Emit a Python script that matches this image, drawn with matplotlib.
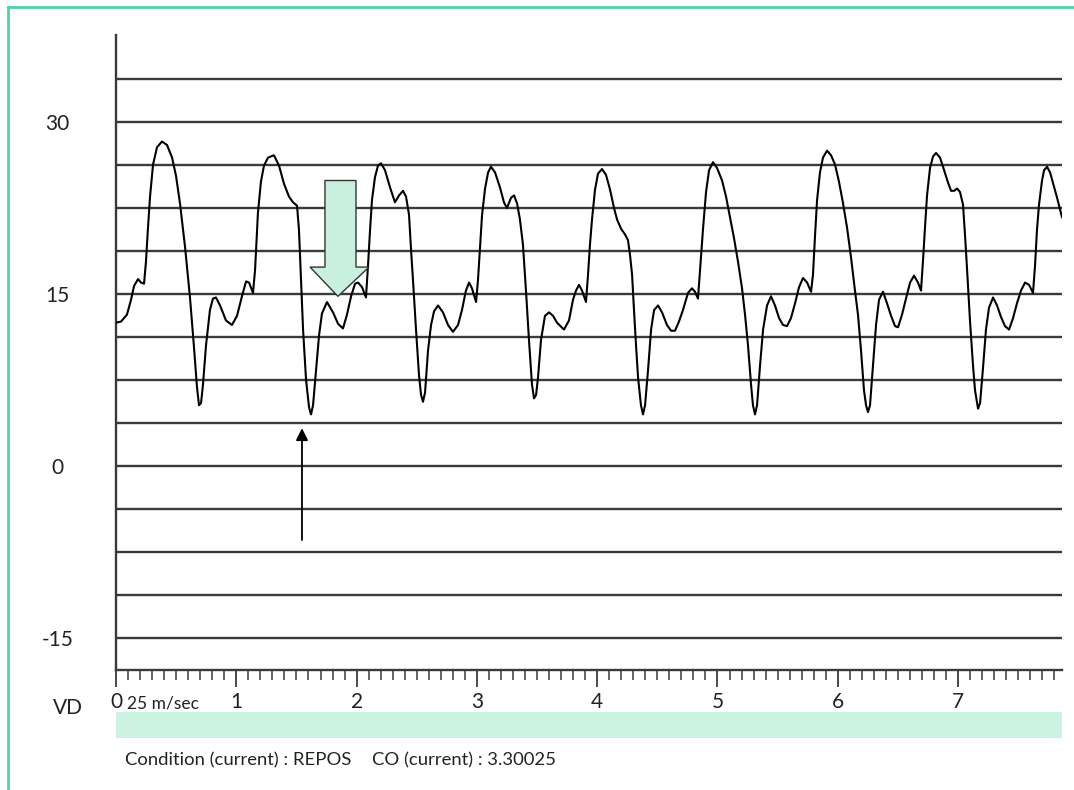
import numpy as np
import matplotlib.pyplot as plt
from matplotlib.patches import Polygon, Rectangle
from matplotlib.lines import Line2D

plt.rcParams['font.family'] = ['Lato', 'DejaVu Sans']

# pressure trace: time (s) and value
t = [0.000, 0.042, 0.091, 0.125, 0.150, 0.183, 0.208, 0.233, 0.249, 0.266,
     0.283, 0.308, 0.341, 0.382, 0.424, 0.466, 0.499, 0.532, 0.574, 0.615,
     0.648, 0.673, 0.690, 0.707, 0.723, 0.748, 0.781, 0.806, 0.831, 0.865,
     0.914, 0.964, 1.006, 1.047, 1.081, 1.106, 1.139, 1.156, 1.180, 1.205,
     1.230, 1.264, 1.313, 1.355, 1.397, 1.438, 1.471, 1.505, 1.521, 1.538,
     1.555, 1.580, 1.605, 1.621, 1.638, 1.663, 1.688, 1.712, 1.754, 1.804,
     1.846, 1.887, 1.920, 1.954, 1.987, 2.012, 2.045, 2.078, 2.095, 2.112,
     2.128, 2.153, 2.178, 2.203, 2.236, 2.278, 2.319, 2.353, 2.386, 2.411,
     2.436, 2.453, 2.469, 2.494, 2.519, 2.536, 2.552, 2.569, 2.594, 2.619,
     2.644, 2.677, 2.718, 2.760, 2.801, 2.843, 2.876, 2.909, 2.935, 2.959,
     2.993, 3.009, 3.026, 3.043, 3.068, 3.093, 3.117, 3.151, 3.192, 3.225,
     3.250, 3.284, 3.309, 3.334, 3.358, 3.383, 3.408, 3.433, 3.458, 3.475,
     3.492, 3.508, 3.533, 3.566, 3.600, 3.633, 3.666, 3.724, 3.766, 3.799,
     3.824, 3.849, 3.874, 3.907, 3.924, 3.940, 3.957, 3.982, 4.007, 4.040,
     4.073, 4.107, 4.140, 4.165, 4.198, 4.231, 4.256, 4.273, 4.290, 4.306,
     4.323, 4.340, 4.364, 4.381, 4.398, 4.423, 4.448, 4.473, 4.506, 4.539,
     4.580, 4.614, 4.647, 4.680, 4.713, 4.755, 4.788, 4.813, 4.838, 4.855,
     4.880, 4.905, 4.930, 4.963, 4.996, 5.038, 5.071, 5.104, 5.137, 5.171,
     5.204, 5.229, 5.254, 5.279, 5.295, 5.312, 5.329, 5.354, 5.379, 5.412,
     5.445, 5.478, 5.512, 5.545, 5.578, 5.611, 5.645, 5.678, 5.711, 5.745,
     5.778, 5.794, 5.811, 5.828, 5.852, 5.877, 5.911, 5.944, 5.977, 6.010,
     6.044, 6.077, 6.110, 6.143, 6.168, 6.193, 6.218, 6.235, 6.251, 6.268,
     6.293, 6.318, 6.343, 6.376, 6.409, 6.443, 6.476, 6.501, 6.534, 6.567,
     6.601, 6.634, 6.667, 6.692, 6.709, 6.725, 6.742, 6.767, 6.792, 6.817,
     6.850, 6.884, 6.917, 6.942, 6.967, 6.992, 7.016, 7.041, 7.058, 7.074,
     7.099, 7.124, 7.141, 7.166, 7.183, 7.207, 7.232, 7.257, 7.291, 7.324,
     7.357, 7.390, 7.424, 7.457, 7.490, 7.523, 7.557, 7.590, 7.623, 7.640,
     7.656, 7.673, 7.698, 7.715, 7.740, 7.765, 7.789, 7.823, 7.864]
p = [12.5, 12.6, 13.2, 14.5, 15.7, 16.3, 16.0, 15.9, 17.8, 20.8,
     23.5, 26.3, 27.8, 28.3, 28.0, 26.9, 25.3, 22.9, 19.1, 14.7,
     10.4, 6.9, 5.3, 5.5, 7.1, 10.5, 13.6, 14.6, 14.7, 14.0,
     12.7, 12.3, 13.1, 14.8, 16.1, 16.0, 15.1, 17.1, 22.1, 24.8,
     26.2, 26.9, 27.1, 26.2, 24.6, 23.5, 23.0, 22.7, 20.6, 16.2,
     11.9, 7.5, 5.1, 4.5, 5.3, 8.4, 11.4, 13.3, 14.3, 13.4,
     12.4, 12.0, 13.2, 14.8, 15.9, 16.0, 15.6, 14.7, 17.5, 20.6,
     23.2, 25.2, 26.2, 26.4, 25.8, 24.3, 23.0, 23.6, 24.0, 23.5,
     21.9, 18.8, 16.2, 11.9, 7.9, 6.2, 5.6, 6.4, 10.1, 12.3,
     13.5, 14.0, 13.4, 12.3, 11.7, 12.3, 13.6, 15.3, 16.0, 15.5,
     14.3, 16.2, 19.1, 21.9, 24.2, 25.6, 26.1, 25.6, 24.3, 23.0,
     22.5, 23.4, 23.6, 22.9, 21.5, 19.3, 15.3, 11.0, 7.1, 5.9,
     6.2, 7.7, 11.0, 13.1, 13.4, 13.1, 12.5, 11.9, 12.7, 14.5,
     15.3, 15.8, 15.3, 14.3, 16.7, 19.3, 21.5, 24.1, 25.5, 25.9,
     25.4, 24.1, 22.5, 21.5, 20.7, 20.2, 19.7, 18.4, 16.7, 13.6,
     10.5, 7.7, 5.3, 4.5, 5.3, 8.4, 11.9, 13.6, 14.0, 13.4,
     12.3, 11.8, 11.8, 12.6, 13.6, 15.1, 15.5, 15.2, 14.6, 17.1,
     20.7, 23.9, 25.8, 26.5, 26.0, 24.9, 23.5, 21.7, 19.9, 17.8,
     15.5, 13.2, 10.5, 7.1, 5.3, 4.5, 5.3, 8.8, 11.9, 14.0,
     14.8, 14.0, 12.9, 12.3, 12.2, 12.9, 14.2, 15.6, 16.4, 16.0,
     15.2, 16.7, 20.1, 23.2, 25.6, 26.9, 27.5, 27.1, 26.3, 24.8,
     22.9, 20.8, 18.2, 15.3, 13.2, 10.1, 6.6, 5.3, 4.7, 5.3,
     8.8, 12.3, 14.5, 15.2, 14.2, 13.1, 12.2, 12.1, 13.2, 14.6,
     16.0, 16.6, 16.0, 15.3, 18.0, 20.8, 23.6, 26.0, 27.0, 27.3,
     26.9, 25.8, 24.7, 24.0, 24.0, 24.2, 23.9, 22.8, 20.1, 17.3,
     12.7, 8.8, 6.6, 5.0, 5.5, 8.5, 11.9, 13.8, 14.7, 14.0,
     13.0, 12.2, 11.9, 12.9, 14.2, 15.3, 16.0, 15.8, 15.1, 17.5,
     20.6, 22.8, 24.9, 25.8, 26.1, 25.6, 24.7, 23.4, 21.7]

grid_levels = np.arange(33.75, -15.1, -3.75)
ytick_vals = [30, 15, 0, -15]
xtick_vals = list(range(8))

W, H = 1074, 790
fig = plt.figure(figsize=(W / 100, H / 100), dpi=100)
ax = fig.add_axes([116 / W, 1 - 670 / H, (1062 - 116) / W, (670 - 35) / H])
ax.set_xlim(0, 7.864)
ax.set_ylim(-17.79, 37.59)

for lev in grid_levels:
    ax.axhline(lev, color='#3a3a3a', lw=1.7, zorder=1)

ax.plot(t, p, color='black', lw=1.5, zorder=3, solid_joinstyle='round')

# big mint arrow pointing down
arrow_pts = [(1.737, 24.9), (1.995, 24.9), (1.995, 17.35), (2.103, 17.35),
             (1.845, 14.8), (1.613, 17.35), (1.737, 17.35)]
ax.add_patch(Polygon(arrow_pts, closed=True, facecolor='#c9f0df',
                     edgecolor='#333333', lw=1.0, zorder=4))

# small black arrow
ax.annotate('', xy=(1.546, 3.3), xytext=(1.546, -6.45),
            arrowprops=dict(arrowstyle='-|>', color='black', lw=1.3,
                            mutation_scale=18, shrinkA=0, shrinkB=0))

for s in ['top', 'right']:
    ax.spines[s].set_visible(False)
for s in ['left', 'bottom']:
    ax.spines[s].set_color('#3a3a3a')
    ax.spines[s].set_linewidth(1.7)

ax.set_yticks(ytick_vals)
ax.set_yticklabels([str(v) for v in ytick_vals])
ax.tick_params(axis='y', length=0, pad=42, labelsize=15, labelcolor='#222222')
for lab in ax.get_yticklabels():
    lab.set_horizontalalignment('center')

ax.set_xticks(xtick_vals)
ax.set_xticklabels([str(v) for v in xtick_vals])
ax.set_xticks(np.arange(0, 7.86, 0.1), minor=True)
ax.tick_params(axis='x', which='major', length=12, width=1.3, direction='out',
               pad=4, labelsize=15, color='#3a3a3a', labelcolor='#222222')
ax.tick_params(axis='x', which='minor', length=7, width=1.1, direction='out',
               color='#3a3a3a')

ax.text(0.09, -0.052, '25 m/sec', transform=ax.get_xaxis_transform(),
        ha='left', va='center', fontsize=12.5, color='#222222')

fig.text(68 / W, 1 - 708 / H, 'VD', ha='center', va='center', fontsize=15,
         color='#222222')

fig.add_artist(Rectangle((116 / W, 1 - 738 / H), (1062 - 116) / W, 26 / H,
                         transform=fig.transFigure, facecolor='#ccf2e2',
                         edgecolor='none'))

fig.text(125 / W, 1 - 760 / H, 'Condition (current) : REPOS', ha='left',
         va='center', fontsize=13.3, color='#222222')
fig.text(372 / W, 1 - 760 / H, 'CO (current) : 3.30025', ha='left',
         va='center', fontsize=13.3, color='#222222')

# frame of the panel
fig.add_artist(Line2D([8 / W, 8 / W], [0, 1 - 7 / H], transform=fig.transFigure,
                      color='#4fd3a6', lw=2))
fig.add_artist(Line2D([8 / W, 1], [1 - 7 / H, 1 - 7 / H], transform=fig.transFigure,
                      color='#4fd3a6', lw=2))

fig.savefig('out.png', dpi=100)
